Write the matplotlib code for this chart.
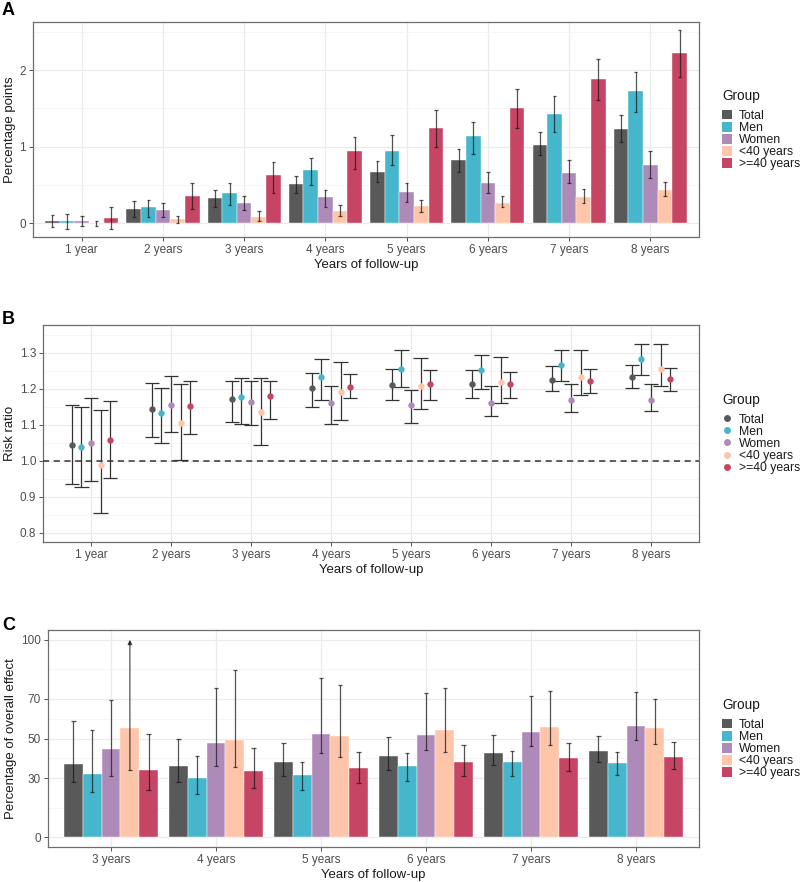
import numpy as np
import matplotlib
matplotlib.use('Agg')
import matplotlib.pyplot as plt
from matplotlib.patches import Patch
from matplotlib.lines import Line2D

plt.rcParams['font.family'] = ['Liberation Sans', 'DejaVu Sans']

groups = ['Total', 'Men', 'Women', '<40 years', '>=40 years']
colors = ['#595959', '#45b6cb', '#ae8ab9', '#fec5aa', '#c64565']

# A: absolute difference, percentage points
years_a = ['1 year', '2 years', '3 years', '4 years', '5 years', '6 years', '7 years', '8 years']
pp_total = [0.03, 0.18, 0.33, 0.51, 0.67, 0.83, 1.02, 1.23]
pp_total_lo = [-0.05, 0.08, 0.21, 0.39, 0.54, 0.67, 0.89, 1.06]
pp_total_hi = [0.11, 0.29, 0.43, 0.62, 0.81, 0.97, 1.19, 1.41]
pp_men = [0.03, 0.21, 0.40, 0.69, 0.95, 1.14, 1.43, 1.73]
pp_men_lo = [-0.07, 0.08, 0.24, 0.50, 0.76, 0.91, 1.19, 1.46]
pp_men_hi = [0.12, 0.31, 0.52, 0.85, 1.15, 1.32, 1.66, 1.97]
pp_women = [0.03, 0.17, 0.27, 0.34, 0.41, 0.53, 0.65, 0.76]
pp_women_lo = [-0.04, 0.08, 0.17, 0.21, 0.28, 0.40, 0.52, 0.59]
pp_women_hi = [0.10, 0.26, 0.35, 0.44, 0.53, 0.67, 0.82, 0.94]
pp_young = [0.005, 0.05, 0.08, 0.16, 0.22, 0.27, 0.34, 0.43]
pp_young_lo = [-0.04, 0.00, 0.035, 0.10, 0.15, 0.21, 0.27, 0.35]
pp_young_hi = [0.03, 0.10, 0.165, 0.235, 0.30, 0.36, 0.45, 0.54]
pp_old = [0.07, 0.36, 0.635, 0.95, 1.25, 1.51, 1.88, 2.22]
pp_old_lo = [-0.07, 0.18, 0.40, 0.71, 1.00, 1.25, 1.61, 1.91]
pp_old_hi = [0.21, 0.53, 0.80, 1.13, 1.48, 1.76, 2.15, 2.52]

# B: risk ratio
rr_total = [1.043, 1.143, 1.171, 1.203, 1.211, 1.213, 1.224, 1.233]
rr_total_lo = [0.936, 1.066, 1.107, 1.150, 1.168, 1.174, 1.194, 1.202]
rr_total_hi = [1.155, 1.216, 1.221, 1.245, 1.255, 1.251, 1.262, 1.267]
rr_men = [1.039, 1.133, 1.176, 1.233, 1.256, 1.253, 1.267, 1.283]
rr_men_lo = [0.927, 1.051, 1.102, 1.168, 1.205, 1.200, 1.221, 1.238]
rr_men_hi = [1.150, 1.203, 1.229, 1.284, 1.309, 1.294, 1.309, 1.324]
rr_women = [1.049, 1.156, 1.164, 1.162, 1.154, 1.161, 1.168, 1.169]
rr_women_lo = [0.945, 1.079, 1.099, 1.102, 1.105, 1.124, 1.135, 1.139]
rr_women_hi = [1.174, 1.235, 1.221, 1.207, 1.197, 1.207, 1.213, 1.212]
rr_young = [0.989, 1.106, 1.136, 1.191, 1.207, 1.219, 1.232, 1.256]
rr_young_lo = [0.856, 1.003, 1.044, 1.113, 1.145, 1.162, 1.182, 1.207]
rr_young_hi = [1.140, 1.213, 1.229, 1.275, 1.285, 1.288, 1.307, 1.324]
rr_old = [1.057, 1.152, 1.179, 1.205, 1.212, 1.212, 1.222, 1.228]
rr_old_lo = [0.952, 1.074, 1.115, 1.175, 1.168, 1.174, 1.189, 1.195]
rr_old_hi = [1.167, 1.223, 1.222, 1.241, 1.252, 1.247, 1.255, 1.259]

# C: percentage of overall effect
years_c = ['3 years', '4 years', '5 years', '6 years', '7 years', '8 years']
pe_total = [37.1, 35.9, 38.0, 41.0, 42.9, 43.6]
pe_total_lo = [27.8, 28.1, 30.8, 34.2, 36.8, 38.1]
pe_total_hi = [58.8, 49.5, 47.8, 50.7, 51.7, 51.4]
pe_men = [32.2, 30.2, 31.5, 36.1, 38.1, 37.5]
pe_men_lo = [22.7, 21.7, 23.7, 28.3, 30.8, 31.4]
pe_men_hi = [54.2, 41.0, 38.3, 42.5, 43.7, 43.1]
pe_women = [44.6, 47.8, 52.4, 51.7, 53.1, 56.4]
pe_women_lo = [31.2, 35.9, 42.5, 44.1, 46.1, 49.2]
pe_women_hi = [69.5, 75.6, 80.5, 73.1, 71.4, 73.7]
pe_young = [55.4, 49.3, 51.4, 54.2, 55.9, 55.1]
pe_young_lo = [33.9, 35.8, 40.7, 43.4, 46.6, 47.3]
pe_young_hi = [100, 84.9, 77.1, 75.6, 74.2, 69.8]
pe_old = [34.1, 33.4, 35.1, 38.3, 40.0, 40.7]
pe_old_lo = [24.1, 25.1, 27.3, 31.2, 33.7, 34.7]
pe_old_hi = [52.4, 45.3, 43.2, 46.6, 47.5, 48.0]
pe_cap = 100  # upper limits at the cap are drawn as arrows

pp = [(pp_total, pp_total_lo, pp_total_hi), (pp_men, pp_men_lo, pp_men_hi),
      (pp_women, pp_women_lo, pp_women_hi), (pp_young, pp_young_lo, pp_young_hi),
      (pp_old, pp_old_lo, pp_old_hi)]
rr = [(rr_total, rr_total_lo, rr_total_hi), (rr_men, rr_men_lo, rr_men_hi),
      (rr_women, rr_women_lo, rr_women_hi), (rr_young, rr_young_lo, rr_young_hi),
      (rr_old, rr_old_lo, rr_old_hi)]
pe = [(pe_total, pe_total_lo, pe_total_hi), (pe_men, pe_men_lo, pe_men_hi),
      (pe_women, pe_women_lo, pe_women_hi), (pe_young, pe_young_lo, pe_young_hi),
      (pe_old, pe_old_lo, pe_old_hi)]

TXT = '#4d4d4d'
GRID = '#ebebeb'
W, H = 800, 882


def style_axes(ax, labels, yticks, ylim, minor):
    ax.set_xlim(0.4, len(labels) + 0.6)
    ax.set_ylim(*ylim)
    ax.set_xticks(np.arange(1, len(labels) + 1))
    ax.set_xticklabels(labels)
    ax.set_yticks(yticks)
    ax.set_yticks(minor, minor=True)
    ax.grid(True, which='major', color=GRID, lw=0.9, zorder=0)
    ax.grid(True, which='minor', axis='y', color='#f3f3f3', lw=0.5, zorder=0)
    ax.set_axisbelow(True)
    ax.tick_params(which='major', length=3, width=0.6, color='#333333',
                   labelsize=8.5, labelcolor=TXT, pad=2)
    ax.tick_params(which='minor', length=0)
    for s in ax.spines.values():
        s.set_color('#6e6e6e')
        s.set_linewidth(0.9)
    ax.set_xlabel('Years of follow-up', fontsize=9.5, color='#1a1a1a', labelpad=2)


def ylabel(text, top, bottom, x=10):
    fig.text(x / W, 1 - (top + bottom) / 2 / H, text, rotation=90, ha='center',
             va='center', fontsize=9.5, color='#1a1a1a')


def whiskers(ax, x, lo, hi, cap, color, alpha, lw, arrow_at=None):
    for xi, l, h in zip(x, lo, hi):
        if arrow_at is not None and h >= arrow_at:
            ax.annotate('', xy=(xi, h), xytext=(xi, l),
                        arrowprops=dict(arrowstyle='-|>,head_length=0.25,head_width=0.12',
                                        color=color, alpha=alpha, lw=lw, shrinkA=0, shrinkB=0),
                        zorder=4)
            ax.hlines(l, xi - cap / 2, xi + cap / 2, color=color, alpha=alpha, lw=lw, zorder=4)
        else:
            ax.vlines(xi, l, h, color=color, alpha=alpha, lw=lw, zorder=4)
            ax.hlines([l, h], xi - cap / 2, xi + cap / 2, color=color, alpha=alpha, lw=lw, zorder=4)


def legend(ax, handles, top, bottom):
    yc = 1 - (top + bottom) / 2 / H
    leg = ax.legend(handles=handles, title='Group', loc='center left',
                    bbox_to_anchor=(722 / W, yc), bbox_transform=fig.transFigure,
                    frameon=False, fontsize=8.8, title_fontsize=9.8,
                    handlelength=0.85, handleheight=0.85, handletextpad=0.55,
                    labelspacing=0.0, borderaxespad=0, borderpad=0,
                    alignment='left')
    leg._legend_box.sep = 5
    leg.get_title().set_color('#1a1a1a')
    for t in leg.get_texts():
        t.set_color('#1a1a1a')


fig = plt.figure(figsize=(8, 8.82), dpi=100)


def add_axes(l, r, t, b):
    return fig.add_axes([l / W, (H - b) / H, (r - l) / W, (b - t) / H])


bw = 0.18
offsets = (np.arange(5) - 2) * bw

# Panel A
axA = add_axes(33, 699, 22, 237)
xa = np.arange(1, len(years_a) + 1)
for i, (est, lo, hi) in enumerate(pp):
    axA.bar(xa + offsets[i], est, width=bw, color=colors[i], edgecolor='white',
            linewidth=0.3, zorder=2)
for i, (est, lo, hi) in enumerate(pp):
    whiskers(axA, xa + offsets[i], lo, hi, 0.045, '#1a1a1a', 0.75, 0.9)
style_axes(axA, years_a, [0, 1, 2], (-0.18, 2.63), [0.5, 1.5, 2.5])
ylabel('Percentage points', 22, 237)
legend(axA, [Patch(facecolor=c, edgecolor='none', label=g) for g, c in zip(groups, colors)],
       22, 237)

# Panel B
axB = add_axes(43, 699, 325, 542)
dodge = 0.12
offs_b = (np.arange(5) - 2) * dodge
for i, (est, lo, hi) in enumerate(rr):
    whiskers(axB, xa + offs_b[i], lo, hi, 0.18, '#333333', 1.0, 0.9)
for i, (est, lo, hi) in enumerate(rr):
    axB.plot(xa + offs_b[i], est, 'o', color=colors[i], markersize=4.6,
             markeredgewidth=0, zorder=5, linestyle='none')
axB.axhline(1.0, color='#333333', lw=1.1, dashes=(4, 3), zorder=3)
style_axes(axB, years_a, [0.8, 0.9, 1.0, 1.1, 1.2, 1.3], (0.775, 1.377),
           [0.85, 0.95, 1.05, 1.15, 1.25, 1.35])
axB.set_yticklabels(['0.8', '0.9', '1.0', '1.1', '1.2', '1.3'])
ylabel('Risk ratio', 325, 542)
legend(axB, [Line2D([], [], marker='o', linestyle='none', color=c, markersize=5,
                    markeredgewidth=0, label=g) for g, c in zip(groups, colors)],
       325, 542)

# Panel C
axC = add_axes(48, 699, 630, 847)
xc = np.arange(1, len(years_c) + 1)
for i, (est, lo, hi) in enumerate(pe):
    axC.bar(xc + offsets[i], est, width=bw, color=colors[i], edgecolor='white',
            linewidth=0.3, zorder=2)
for i, (est, lo, hi) in enumerate(pe):
    whiskers(axC, xc + offsets[i], lo, hi, 0.045, '#1a1a1a', 0.75, 0.9, arrow_at=pe_cap)
style_axes(axC, years_c, [0, 30, 50, 70, 100], (-4.9, 104.9), [15, 40, 60, 85])
ylabel('Percentage of overall effect', 630, 847, x=11)
legend(axC, [Patch(facecolor=c, edgecolor='none', label=g) for g, c in zip(groups, colors)],
       630, 847)

for lab, top in [('A', 2), ('B', 311), ('C', 617)]:
    fig.text(2 / W, 1 - top / H, lab, fontsize=13, fontweight='bold', va='top', ha='left')

fig.savefig('out.png', dpi=100)
